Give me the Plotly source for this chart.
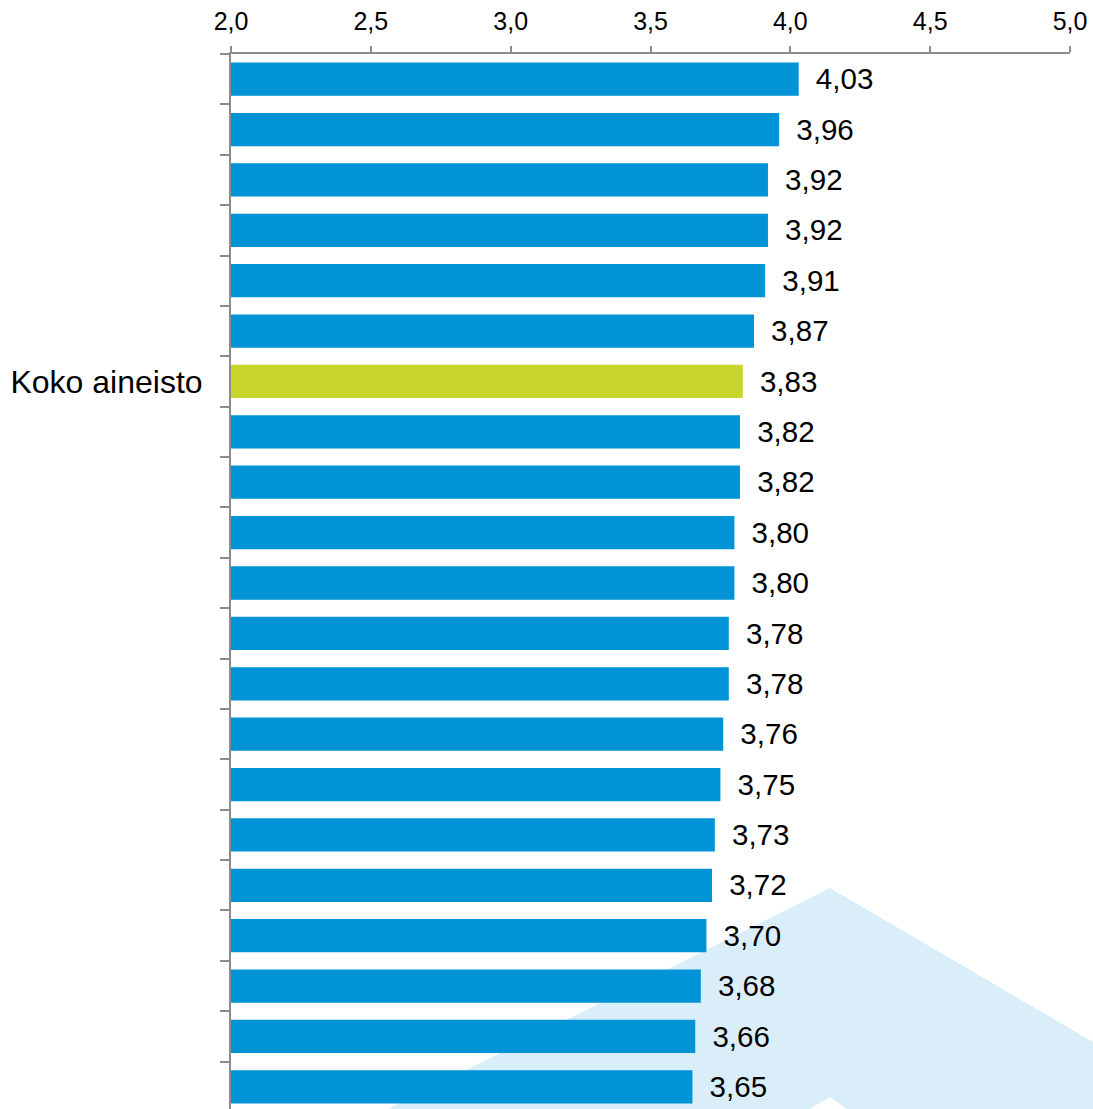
import plotly.graph_objects as go

labels = ["", "", "", "", "", "", "Koko aineisto", "", "", "", "",
          "", "", "", "", "", "", "", "", "", ""]
values = [4.03, 3.96, 3.92, 3.92, 3.91, 3.87, 3.83, 3.82, 3.82, 3.80, 3.80,
          3.78, 3.78, 3.76, 3.75, 3.73, 3.72, 3.70, 3.68, 3.66, 3.65]
x_ticks = [2.0, 2.5, 3.0, 3.5, 4.0, 4.5, 5.0]

BLUE = "rgb(0,147,214)"
GREEN = "rgb(200,214,44)"
positions = list(range(len(values)))
colors = [GREEN if l == "Koko aineisto" else BLUE for l in labels]

W, H = 1093, 1112
L, R, T, B = 231, 23, 54, 0
pw, ph = W - L - R, H - T - B

def px(x):
    return (x - L) / pw

def py(y):
    return 1 - (y - T) / ph

FONT = "Liberation Sans, Arial, sans-serif"

fig = go.Figure()
fig.add_trace(go.Bar(
    x=values, y=positions, orientation="h",
    marker=dict(color=colors, line=dict(width=0)),
    width=0.66,
    texttemplate="\u00a0\u2009%{x:.2f}",
    textposition="outside",
    textfont=dict(family=FONT, size=32, color="#000000"),
    cliponaxis=False,
    hoverinfo="skip",
))

# light blue decorative chevron in background
pts = [(388, 1109), (830, 888), (1093, 1042), (1093, 1112),
       (851, 1112), (830, 1097), (805, 1112)]
path = "M " + " L ".join(f"{px(a):.4f},{py(b):.4f}" for a, b in pts) + " Z"
fig.add_shape(type="path", xref="paper", yref="paper", path=path,
              fillcolor="rgb(218,238,250)", line=dict(width=0), layer="below")

mid = labels.index("Koko aineisto")
fig.update_layout(
    width=W, height=H,
    margin=dict(l=L, r=R, t=T, b=B, pad=0),
    paper_bgcolor="white", plot_bgcolor="rgba(0,0,0,0)",
    separators=", ",
    showlegend=False,
    xaxis=dict(
        side="top", range=[2, 5], tickvals=x_ticks,
        ticktext=[f"{v:.1f}".replace(".", ",") for v in x_ticks],
        showgrid=False, zeroline=False,
        showline=True, linecolor="#8c8c8c", linewidth=2,
        ticks="outside", ticklen=6, tickwidth=2, tickcolor="#8c8c8c",
        ticklabelstandoff=6,
        tickfont=dict(family=FONT, size=25, color="#000000"),
    ),
    yaxis=dict(
        range=[len(values) - 0.5, -0.5],
        tickmode="array", tickvals=[mid], ticktext=[labels[mid]],
        ticks="", ticklabelstandoff=20,
        tickfont=dict(family=FONT, size=32, color="#000000"),
        showgrid=False, zeroline=False,
        showline=True, linecolor="#8c8c8c", linewidth=2,
        minor=dict(tickmode="array",
                   tickvals=[i - 0.5 for i in range(len(values) + 1)],
                   ticks="outside", ticklen=9, tickwidth=2,
                   tickcolor="#8c8c8c", showgrid=False),
    ),
)

fig.write_html(
    "out.html",
    config={"displayModeBar": False},
    post_script="document.body.style.margin='0';"
                "document.body.style.overflow='hidden';",
)
